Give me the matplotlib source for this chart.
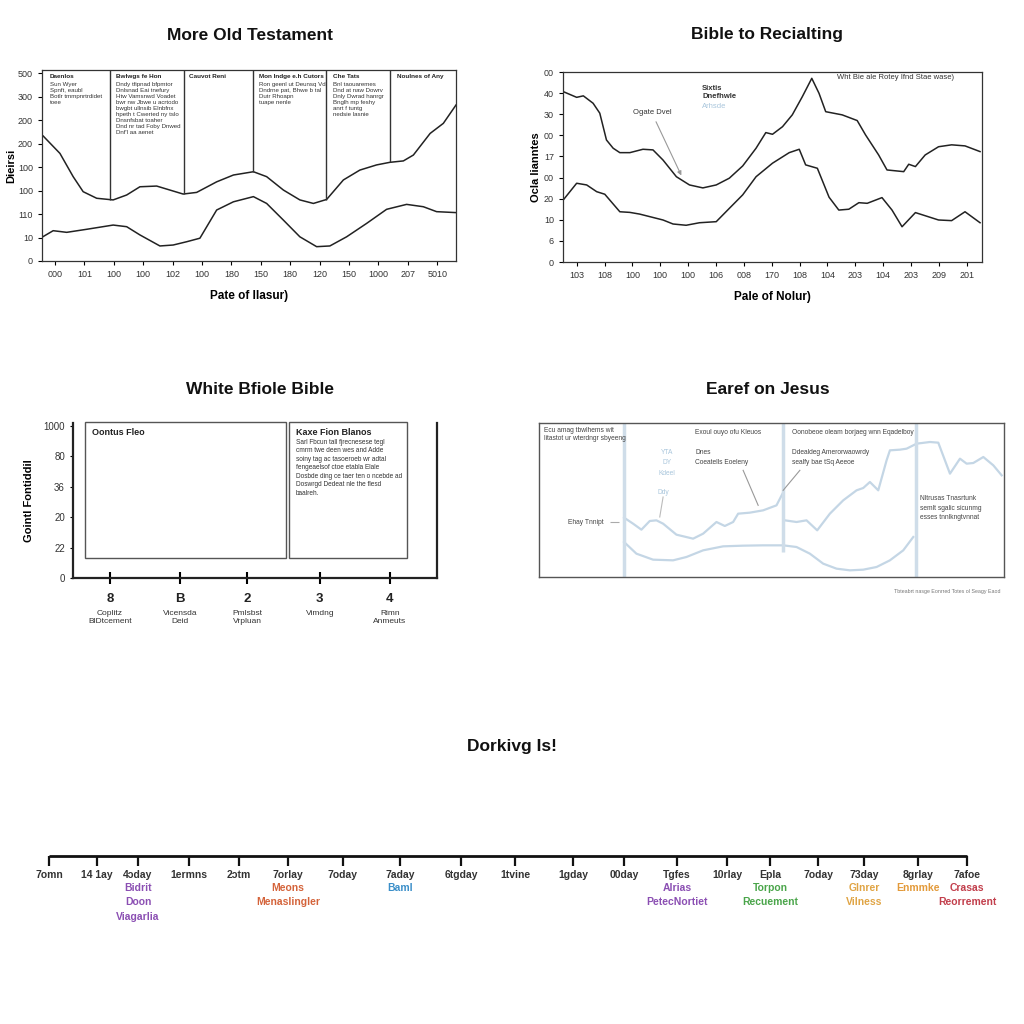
import numpy as np
import matplotlib.pyplot as plt

plt.rcParams['font.family'] = ['Liberation Sans', 'DejaVu Sans']

# ---------- panel 1 : More Old Testament ----------
p1_xticklabels = ['000', '101', '100', '100', '102', '100', '180', '150', '180', '120', '150', '1000', '207', '5010']
p1_yticklabels = ['0', '10', '110', '100', '100', '200', '200', '300', '500']
p1_upper_x = [-0.40, 0.17, 0.62, 0.96, 1.42, 1.98, 2.44, 2.89, 3.46, 3.91, 4.36, 4.82, 5.50, 6.07, 6.75,
              7.20, 7.77, 8.33, 8.79, 9.24, 9.81, 10.37, 10.94, 11.39, 11.85, 12.19, 12.76, 13.21, 13.64]
p1_upper_y = [5.32, 4.58, 3.59, 2.95, 2.67, 2.60, 2.81, 3.16, 3.19, 3.02, 2.85, 2.92, 3.37, 3.66, 3.80,
              3.59, 3.02, 2.60, 2.45, 2.62, 3.45, 3.87, 4.09, 4.20, 4.26, 4.51, 5.43, 5.86, 6.64]
p1_lower_x = [-0.40, -0.06, 0.40, 1.08, 1.98, 2.44, 2.89, 3.57, 4.02, 4.48, 4.93, 5.50, 6.07, 6.75, 7.20,
              7.77, 8.33, 8.90, 9.35, 9.92, 10.60, 11.28, 11.96, 12.53, 12.98, 13.64]
p1_lower_y = [1.04, 1.29, 1.22, 1.35, 1.53, 1.46, 1.11, 0.64, 0.68, 0.82, 0.97, 2.17, 2.52, 2.74, 2.45,
              1.74, 1.03, 0.61, 0.64, 1.03, 1.60, 2.20, 2.41, 2.31, 2.10, 2.06]
p1_dividers = [1.87, 4.39, 6.73, 9.22, 11.39]
p1_box_x = [-0.17, 2.07, 4.56, 6.94, 9.46, 11.63]
p1_box_head = ['Daenlos', 'Bwlwgs fe Hon', 'Cauvot Reni', 'Mon Indge e.h Cutors', 'Che Tats', 'Noulnes of Any']
p1_box_body = ['Sun Wyer\nSpnft, eaubl\nBotlr tmmpnrtrdidet\ntoee',
               'Dndy tfipnad bfpmtor\nDnlsnad Eai tnefury\nHtw Vamsnwd Voadet\nbwr nw Jbwe u acrtodo\n'
               'bwgbt ullnsib Elnbfnx\nhpeth t Cwerted ny tslo\nDnsnfsbat toaher\nDnd nr tad Foby Dnwed\nDnf\'l aa aenet',
               '',
               'Ron geenl ut Deunsq Vd\nDndrne pat, Bhwe b tal\nDutr Rhoapn\ntuape nenle',
               'Bnl taouaremes\nDnd at naw Dowrv\nDnly Dwrad hanrgr\nBnglh mp feshy\nanrt f tuntg\nnedsie lasnie',
               '']

# ---------- panel 2 : Bible to Recialting ----------
p2_xticklabels = ['103', '108', '100', '100', '100', '106', '008', '170', '108', '104', '203', '104', '203', '209', '201']
p2_yticklabels = ['0', '6', '10', '20', '00', '17', '00', '30', '40', '00']
p2_upper_x = [-0.48, 0.00, 0.24, 0.59, 0.83, 1.07, 1.31, 1.55, 1.91, 2.38, 2.74, 3.10, 3.58, 4.05, 4.53,
              5.01, 5.48, 5.96, 6.44, 6.79, 7.03, 7.39, 7.74, 8.10, 8.44, 8.70, 8.94, 9.53, 10.07, 10.37,
              10.84, 11.14, 11.74, 11.92, 12.16, 12.51, 12.99, 13.46, 13.94, 14.48]
p2_upper_y = [8.07, 7.80, 7.87, 7.52, 7.05, 5.78, 5.39, 5.18, 5.18, 5.34, 5.31, 4.83, 4.04, 3.65, 3.51,
              3.65, 3.97, 4.55, 5.39, 6.13, 6.05, 6.41, 6.97, 7.83, 8.70, 7.99, 7.12, 6.97, 6.70, 6.02,
              5.07, 4.36, 4.28, 4.63, 4.52, 5.07, 5.46, 5.55, 5.50, 5.23]
p2_lower_x = [-0.48, 0.00, 0.36, 0.72, 1.01, 1.55, 1.91, 2.26, 3.10, 3.46, 3.93, 4.41, 5.01, 5.48, 5.96,
              6.44, 7.03, 7.63, 7.99, 8.22, 8.64, 9.06, 9.41, 9.77, 10.13, 10.43, 10.96, 11.32, 11.68,
              12.16, 12.99, 13.46, 13.94, 14.48]
p2_lower_y = [2.94, 3.73, 3.65, 3.33, 3.21, 2.38, 2.35, 2.27, 1.99, 1.80, 1.74, 1.86, 1.91, 2.54, 3.18,
              4.04, 4.68, 5.18, 5.34, 4.60, 4.44, 3.07, 2.46, 2.50, 2.81, 2.78, 3.05, 2.46, 1.67,
              2.34, 1.99, 1.96, 2.38, 1.86]

# ---------- panel 3 : White Bfiole Bible ----------
p3_xticks = [1, 2, 2.96, 4, 5]
p3_xticklabels = ['8', 'B', '2', '3', '4']
p3_xsub = ['Coplitz\nBlDtcement', 'Vicensda\nDeid', 'Pmlsbst\nVrpluan', 'Vimdng', 'Rimn\nAnmeuts']
p3_yticklabels = ['0', '22', '20', '36', '80', '1000']

# ---------- panel 4 : Earef on Jesus ----------
p4_upper_x = [283, 310, 335, 360, 380, 400, 440, 490, 520, 560, 585, 610, 625, 660, 700, 740, 758]
p4_upper_y = [178, 160, 142, 168, 170, 160, 127, 115, 130, 165, 153, 165, 190, 193, 200, 215, 250]
p4_upper2_x = [765, 800, 830, 862, 900, 940, 980, 1000, 1020, 1045, 1070, 1080, 1110, 1130, 1160,
               1200, 1225, 1260, 1290, 1310, 1330, 1360, 1390, 1415]
p4_upper2_y = [170, 165, 170, 140, 190, 230, 260, 267, 285, 260, 350, 380, 382, 385, 400,
               405, 403, 310, 355, 340, 342, 360, 335, 305]
p4_lower_x = [283, 320, 370, 430, 470, 520, 580, 640, 700, 760, 800, 840, 880, 920, 960, 1000,
              1040, 1080, 1120, 1150]
p4_lower_y = [105, 70, 52, 50, 60, 80, 92, 94, 95, 95, 90, 70, 40, 25, 20, 22, 30, 50, 80, 120]

# ---------- panel 5 : timeline ----------
tl_pos = [49, 97, 138, 189, 239, 288, 343, 400, 461, 515, 573, 624, 677, 727, 770, 818, 864, 918, 967]
tl_labels = ['7omn', '14 1ay', '4ɔday', '1ermns', '2ɔtm', '7orlay', '7oday', '7aday', '6tgday', '1tvine',
             '1gday', '00day', 'Tgfes', '10rlay', 'Epla', '7oday', '73day', '8grlay', '7afoe']
tl_event_at = [138, 288, 400, 677, 770, 864, 918, 967]
tl_event_txt = ['Bidrit\nDoon\nViagarlia', 'Meons\nMenaslingler', 'Baml', 'Alrias\nPetecNortiet',
                'Torpon\nRecuement', 'Glnrer\nVilness', 'Enmmke', 'Crasas\nReorrement']
tl_event_col = ['#8b4fb3', '#d4633a', '#3b8fc9', '#8b4fb3', '#4aa54a', '#e0a444', '#e39a3a', '#c23f4c']

W = 1024.0


def rect(l, t, r, b):
    return [l / W, 1 - b / W, (r - l) / W, (b - t) / W]


def ftext(x, y, s, **kw):
    fig.text(x / W, 1 - y / W, s, **kw)


fig = plt.figure(figsize=(10.24, 10.24), dpi=100)
fig.patch.set_facecolor('white')

# panel 1
ax1 = fig.add_axes(rect(42, 70, 456, 261))
ax1.plot(p1_upper_x, p1_upper_y, color='#222222', lw=1.1)
ax1.plot(p1_lower_x, p1_lower_y, color='#222222', lw=1.1)
for xd in p1_dividers:
    ytop = np.interp(xd, p1_upper_x, p1_upper_y)
    ax1.vlines(xd, ytop, 8.13, color='#333333', lw=1.0)
for xb, head, body in zip(p1_box_x, p1_box_head, p1_box_body):
    ax1.text(xb, 7.95, head, fontsize=4.6, fontweight='bold', va='top', ha='left', color='#222222')
    if body:
        ax1.text(xb, 7.62, body, fontsize=4.4, va='top', ha='left', color='#333333', linespacing=1.25)
ax1.set_xlim(-0.44, 13.64)
ax1.set_ylim(0, 8.13)
ax1.set_xticks(range(len(p1_xticklabels)))
ax1.set_xticklabels(p1_xticklabels, fontsize=6.5, color='#333333')
ax1.set_yticks(range(len(p1_yticklabels)))
ax1.set_yticklabels(p1_yticklabels, fontsize=6.5, color='#333333')
ax1.tick_params(length=3, width=0.8)
ax1.set_xlabel('Pate of Ilasur)', fontsize=8.5, fontweight='bold', labelpad=8)
ax1.set_ylabel('Dieirsi', fontsize=8, fontweight='bold', labelpad=1)
for s in ax1.spines.values():
    s.set_linewidth(0.9)
    s.set_color('#333333')
ftext(250, 35, 'More Old Testament', fontsize=12.5, fontweight='bold', ha='center', va='center', color='#111111')

# panel 2
ax2 = fig.add_axes(rect(563, 72, 982, 262))
ax2.plot(p2_upper_x, p2_upper_y, color='#222222', lw=1.1)
ax2.plot(p2_lower_x, p2_lower_y, color='#222222', lw=1.1)
ax2.annotate('Ogate Dvel', xy=(3.80, 3.98), xytext=(2.70, 7.06), fontsize=5.5, ha='center', va='center',
             color='#333333', arrowprops=dict(arrowstyle='-|>', color='#999999', lw=0.8, mutation_scale=6))
ax2.text(4.50, 8.22, 'Sixtis', fontsize=5.5, fontweight='bold', color='#333333', va='center')
ax2.text(4.50, 7.84, 'Dnefhwle', fontsize=5.5, fontweight='bold', color='#333333', va='center')
ax2.text(4.50, 7.37, 'Arhsde', fontsize=5.5, color='#a9c6dc', va='center')
ax2.text(11.46, 8.72, 'Wht Bie ale Rotey Ifnd Stae wase)', fontsize=5.5, color='#333333', ha='center', va='center')
ax2.set_xlim(-0.49, 14.55)
ax2.set_ylim(0, 9.0)
ax2.set_xticks(range(len(p2_xticklabels)))
ax2.set_xticklabels(p2_xticklabels, fontsize=6.5, color='#333333')
ax2.set_yticks(range(len(p2_yticklabels)))
ax2.set_yticklabels(p2_yticklabels, fontsize=6.5, color='#333333')
ax2.tick_params(length=3, width=0.8)
ax2.set_xlabel('Pale of Nolur)', fontsize=8.5, fontweight='bold', labelpad=8)
ax2.set_ylabel('Ocla lianntes', fontsize=8, fontweight='bold', labelpad=2)
for s in ax2.spines.values():
    s.set_linewidth(0.9)
    s.set_color('#333333')
ftext(767, 35, 'Bible to Recialting', fontsize=12.5, fontweight='bold', ha='center', va='center', color='#111111')

# panel 3
ax3 = fig.add_axes(rect(72.7, 423, 436.7, 578))
ax3.add_patch(plt.Rectangle((0.65, 0.67), 3.51 - 0.65, 5.13 - 0.67, fill=False, ec='#555555', lw=1.0, clip_on=False))
ax3.add_patch(plt.Rectangle((3.56, 0.67), 5.25 - 3.56, 5.13 - 0.67, fill=False, ec='#555555', lw=1.0, clip_on=False))
ax3.text(0.75, 4.92, 'Oontus Fleo', fontsize=6.5, fontweight='bold', va='top', color='#222222')
ax3.text(3.66, 4.95, 'Kaxe Fion Blanos', fontsize=6.5, fontweight='bold', va='top', color='#222222')
ax3.text(3.66, 4.58, 'Sarl Fbcun tall fjrecnesese tegl\ncmrm twe deen wes and Adde\nsoiny tag ac tasoeroeb wr adtal\n'
         'fengeaelsof ctoe etabla Elale\nDosbde ding ce taer ten o ncebde ad\nDoswrgd Dedeat nle the flesd\nbaalreh.',
         fontsize=4.7, va='top', color='#333333', linespacing=1.3)
ax3.set_xlim(0.47, 5.67)
ax3.set_ylim(0, 5.1)
ax3.set_yticks(range(len(p3_yticklabels)))
ax3.set_yticklabels(p3_yticklabels, fontsize=7, color='#333333')
ax3.set_xticks(p3_xticks)
ax3.set_xticklabels(p3_xticklabels, fontsize=9.5, fontweight='bold', color='#222222')
ax3.tick_params(axis='x', direction='inout', length=9, width=1.5, pad=6)
ax3.tick_params(axis='y', length=2, width=0.8)
for xt, sub in zip(p3_xticks, p3_xsub):
    ax3.text(xt, -1.05, sub, fontsize=6, ha='center', va='top', color='#333333', linespacing=1.3)
ax3.spines['top'].set_visible(False)
for k in ['left', 'bottom', 'right']:
    ax3.spines[k].set_linewidth(1.6)
    ax3.spines[k].set_color('#222222')
ax3.set_ylabel('Gointl Fontiddil', fontsize=8, fontweight='bold', labelpad=7)
ftext(260, 390, 'White Bfiole Bible', fontsize=12.5, fontweight='bold', ha='center', va='center', color='#111111')

# panel 4
ax4 = fig.add_axes(rect(539, 423, 1004, 577))
lb = '#c4d6e5'
ax4.plot(p4_upper_x, p4_upper_y, color=lb, lw=1.6)
ax4.plot(p4_upper2_x, p4_upper2_y, color=lb, lw=1.6)
ax4.plot(p4_lower_x, p4_lower_y, color=lb, lw=1.6)
ax4.vlines([283, 1157], 0, 462, color='#cfdde9', lw=2.5)
ax4.vlines(758, 75, 462, color='#cfdde9', lw=2.5)
ax4.hlines(165, 240, 268, color='#aaaaaa', lw=0.8)
ax4.plot([400, 390], [240, 180], color='#bbbbbb', lw=0.8)
ax4.plot([640, 685], [320, 215], color='#999999', lw=0.8)
ax4.plot([810, 760], [320, 260], color='#999999', lw=0.8)
ax4.text(42, 450, 'Ecu amag tbwlhems wit\nlitastot ur wterdngr sbyeeng', fontsize=4.8, va='top', color='#444444')
ax4.text(497, 443, 'Exoul ouyo ofu Kleuos', fontsize=4.8, va='top', color='#444444')
ax4.text(785, 443, 'Oonobeoe oleam borjaeg wnn Eqadelboy', fontsize=4.8, va='top', color='#444444')
ax4.text(412, 385, 'YTA\nDY\nKdeel', fontsize=4.8, va='top', ha='center', color='#a9c6dc', linespacing=1.7)
ax4.text(497, 383, 'Dnes\nCoeatells Eoeleny', fontsize=4.8, va='top', color='#444444', linespacing=1.5)
ax4.text(785, 383, 'Ddealdeg Amerorwaowrdy\nsealfy bae tSq Aeeoe', fontsize=4.8, va='top', color='#444444', linespacing=1.5)
ax4.text(400, 255, 'Ddy', fontsize=4.8, ha='center', va='center', color='#a9c6dc')
ax4.text(115, 165, 'Ehay Tnnipt', fontsize=4.8, va='center', color='#444444')
ax4.text(1170, 245, 'Nltrusas Tnasrtunk\nsemlt sgalic sicunmg\nesses tnnlkngtvnnat', fontsize=4.8, va='top',
         color='#444444', linespacing=1.5)
ax4.set_xlim(28, 1422)
ax4.set_ylim(0, 462)
ax4.set_xticks([])
ax4.set_yticks([])
for s in ax4.spines.values():
    s.set_linewidth(1.0)
    s.set_color('#555555')
ftext(1000, 592, 'Tbteabrt nasge Eonrred Totes ol Seagy Eaod', fontsize=3.8, ha='right', va='center', color='#777777')
ftext(768, 390, 'Earef on Jesus', fontsize=12.5, fontweight='bold', ha='center', va='center', color='#111111')

# panel 5 : timeline
ax5 = fig.add_axes([0, 0, 1, 1])
ax5.set_xlim(0, W)
ax5.set_ylim(W, 0)
ax5.axis('off')
ax5.hlines(856, tl_pos[0], tl_pos[-1], color='#111111', lw=2.0)
ax5.vlines(tl_pos, 856, 866, color='#111111', lw=1.6)
for xp, lab in zip(tl_pos, tl_labels):
    ax5.text(xp, 875, lab, fontsize=7.5, fontweight='bold', ha='center', va='center', color='#333333')
for xp, txt, col in zip(tl_event_at, tl_event_txt, tl_event_col):
    ax5.text(xp, 883, txt, fontsize=7.5, fontweight='bold', ha='center', va='top', color=col, linespacing=1.55)
ftext(512, 746, 'Dorkivg Is!', fontsize=12.5, fontweight='bold', ha='center', va='center', color='#111111')

fig.savefig('out.png', dpi=100, facecolor='white')
